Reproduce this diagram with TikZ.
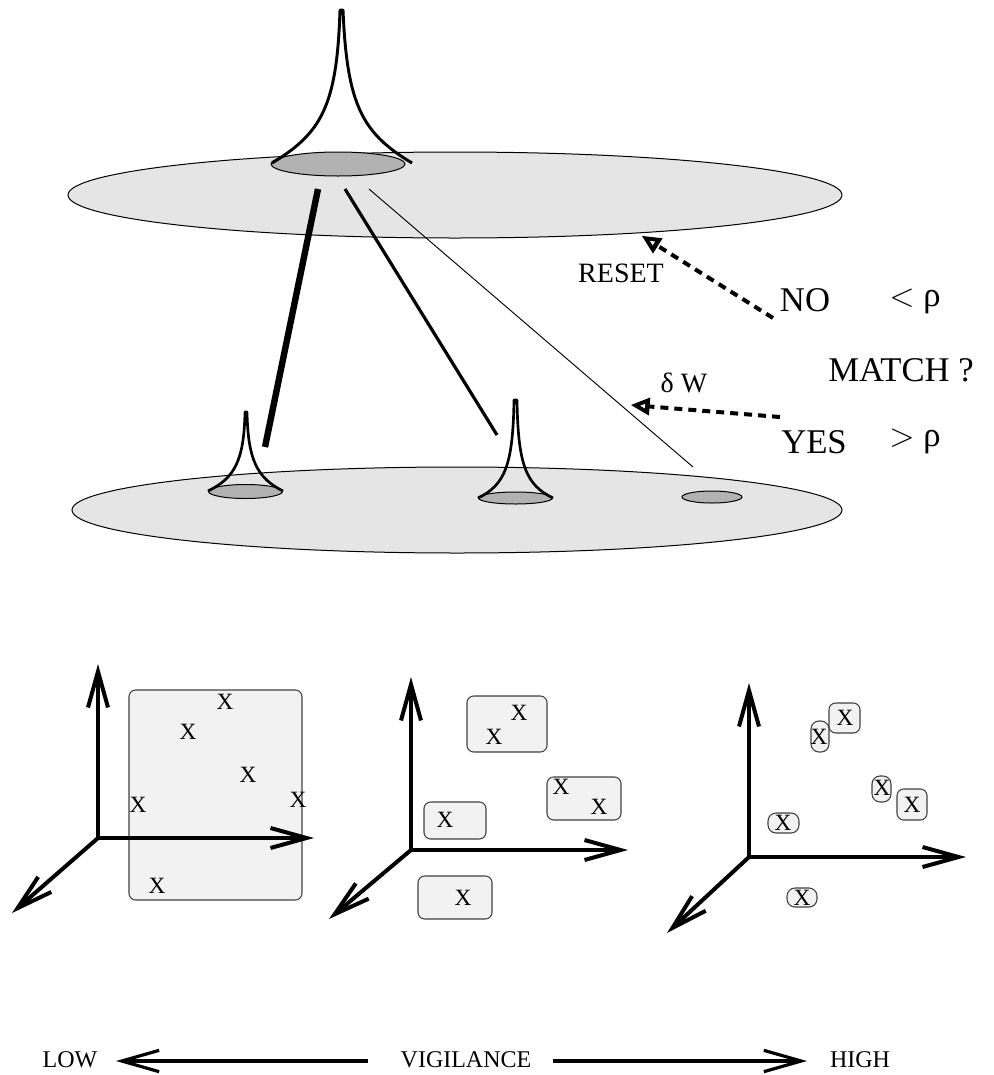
\documentclass[tikz,border=0pt]{standalone}
\usepackage{fontspec}
\setmainfont{Liberation Serif}
\usetikzlibrary{arrows.meta,calc}
\definecolor{planefill}{gray}{0.9}
\definecolor{spotfill}{gray}{0.7}
\definecolor{clusterfill}{gray}{0.95}
\definecolor{clusterline}{gray}{0.25}
\begin{document}
\begin{tikzpicture}[x=0.75pt,y=-0.75pt,
  planestyle/.style={fill=planefill,draw=black,line width=0.75pt},
  spotstyle/.style={fill=spotfill,draw=black,line width=0.75pt},
  peakstyle/.style={draw=black,line width=2.2pt,line join=round},
  bigtext/.style={inner sep=0pt,font=\fontsize{26}{30}\selectfont},
  smalltext/.style={inner sep=0pt,font=\fontsize{21}{25}\selectfont},
  scaletext/.style={inner sep=0pt,font=\fontsize{18}{22}\selectfont},
  xmark/.style={inner sep=0pt,font=\fontsize{17.5}{20}\selectfont},
  feedback/.style={line width=3pt,dash pattern=on 6pt off 4.5pt},
  axis/.style={line width=3pt,-{Straight Barb[length=27pt,width=15pt]}},
  scalearrow/.style={line width=2.4pt,-{Straight Barb[length=28pt,width=16pt]}},
  cluster/.style={fill=clusterfill,draw=clusterline,line width=0.8pt,rounded corners=5pt},
  tinycluster/.style={fill=clusterfill,draw=clusterline,line width=0.8pt,rounded corners=6pt}
]
\useasboundingbox (0,0) rectangle (994,1075);

% open arrow head drawn as a solid triangle with a small hole
\newcommand{\openhead}[2]{%
  \coordinate (hb) at ($(#1)!14pt!(#2)$);
  \coordinate (h1) at ($(hb)!6.8pt!90:(#1)$);
  \coordinate (h2) at ($(hb)!6.8pt!-90:(#1)$);
  \coordinate (hg) at ($(#1)!2/3!(hb)$);
  \fill[black] (#1) -- (h1) -- (h2) -- cycle;
  \fill[white] ($(hg)!0.25!(#1)$) -- ($(hg)!0.25!(h1)$) -- ($(hg)!0.25!(h2)$) -- cycle;
}

% ---------- upper layer ----------
\filldraw[planestyle] (455,195) ellipse [x radius=387, y radius=43];
\filldraw[spotstyle] (338,164) ellipse [x radius=67, y radius=12];
\draw[peakstyle] (272,163) .. controls (322,133) and (337,105) .. (340,10)
                 -- (343,10) .. controls (347,105) and (362,133) .. (412,163);

% ---------- lower layer ----------
\filldraw[planestyle] (457,510) ellipse [x radius=385, y radius=43];
\filldraw[spotstyle] (245.5,491.5) ellipse [x radius=37, y radius=7];
\draw[peakstyle,line width=2pt] (208,491) .. controls (235,478) and (244,460) .. (245,412)
                 -- (247,412) .. controls (248,460) and (257,478) .. (283,491);
\filldraw[spotstyle] (515.5,498) ellipse [x radius=37, y radius=6];
\draw[peakstyle,line width=2pt] (478,498) .. controls (505,485) and (513,465) .. (514,400)
                 -- (517,400) .. controls (518,465) and (526,485) .. (553,498);
\filldraw[spotstyle] (712,497) ellipse [x radius=30, y radius=6];

% ---------- weights between layers ----------
\coordinate (w1a) at (318,189); \coordinate (w1b) at (265,447);
\coordinate (w2a) at (345,189); \coordinate (w2b) at (497,435);
\coordinate (w3a) at (369,189); \coordinate (w3b) at (693,467);
\draw[line width=4.8pt] (w1a) -- (w1b);
\draw[line width=2.4pt] (w2a) -- (w2b);
\draw[line width=0.7pt] (w3a) -- (w3b);

% ---------- match test ----------
\node[bigtext] (no) at (805,300) {NO};
\node[bigtext] (lt) at (915,301) {$<$ ρ};
\node[bigtext] (match) at (901,370) {MATCH ?};
\node[bigtext] (yes) at (814,442) {YES};
\node[bigtext] (gt) at (915,441) {$>$ ρ};
\node[smalltext] (reset) at (621,273) {RESET};
\node[smalltext] (dw) at (684,383) {δ W};
\coordinate (resetTail) at (773,318);
\coordinate (resetTip) at (642,236);
\coordinate (dwTail) at (780,417);
\coordinate (dwTip) at (631,405);
\coordinate (resetBack) at ($(resetTip)!13pt!(resetTail)$);
\coordinate (dwBack) at ($(dwTip)!13pt!(dwTail)$);
\draw[feedback] (resetTail) -- (resetBack);
\draw[feedback] (dwTail) -- (dwBack);
\openhead{resetTip}{resetTail}
\openhead{dwTip}{dwTail}

% ---------- low vigilance: one category ----------
\draw[cluster] (129,690) rectangle (302,900);
\node[xmark] (a1) at (225,702) {X};
\node[xmark] (a2) at (188,732) {X};
\node[xmark] (a3) at (248,775) {X};
\node[xmark] (a4) at (138,805) {X};
\node[xmark] (a5) at (298,800) {X};
\node[xmark] (a6) at (157,886) {X};
\coordinate (o1) at (98,838);
\coordinate (o1y) at (98,664);
\coordinate (o1x) at (314,838);
\coordinate (o1z) at (12,913);
\draw[axis] (o1) -- (o1y);
\draw[axis] (o1) -- (o1x);
\draw[axis] (o1) -- (o1z);

% ---------- medium vigilance: four categories ----------
\draw[cluster] (467,696) rectangle (547,752);
\draw[cluster] (547,777) rectangle (621,820);
\draw[cluster] (424,802) rectangle (486,839);
\draw[cluster] (418,876) rectangle (492,919);
\node[xmark] (b1) at (519,713) {X};
\node[xmark] (b2) at (494,737) {X};
\node[xmark] (b3) at (561,787) {X};
\node[xmark] (b4) at (599,807) {X};
\node[xmark] (b5) at (445,820) {X};
\node[xmark] (b6) at (463,898) {X};
\coordinate (o2) at (411,850);
\coordinate (o2y) at (411,677);
\coordinate (o2x) at (628,850);
\coordinate (o2z) at (329,919);
\draw[axis] (o2) -- (o2y);
\draw[axis] (o2) -- (o2x);
\draw[axis] (o2) -- (o2z);

% ---------- high vigilance: one category per pattern ----------
\draw[cluster] (829,703) rectangle (860,733);
\draw[tinycluster] (811,721) rectangle (829,752);
\draw[tinycluster] (872,776) rectangle (891,802);
\draw[cluster] (897,789) rectangle (927,820);
\draw[tinycluster] (768,813) rectangle (799,833);
\draw[tinycluster] (787,888) rectangle (817,907);
\node[xmark] (c1) at (845,718) {X};
\node[xmark] (c2) at (819,737) {X};
\node[xmark] (c3) at (882,788) {X};
\node[xmark] (c4) at (912,805) {X};
\node[xmark] (c5) at (783,823) {X};
\node[xmark] (c6) at (802,898) {X};
\coordinate (o3) at (749,857);
\coordinate (o3y) at (749,683);
\coordinate (o3x) at (966,857);
\coordinate (o3z) at (667,933);
\draw[axis] (o3) -- (o3y);
\draw[axis] (o3) -- (o3x);
\draw[axis] (o3) -- (o3z);

% ---------- vigilance scale ----------
\node[scaletext] (low) at (70,1060) {LOW};
\node[scaletext] (vig) at (466,1060) {VIGILANCE};
\node[scaletext] (high) at (860,1060) {HIGH};
\coordinate (lowTail) at (368,1061);
\coordinate (lowTip) at (116,1061);
\coordinate (highTail) at (553,1061);
\coordinate (highTip) at (807,1061);
\draw[scalearrow] (lowTail) -- (lowTip);
\draw[scalearrow] (highTail) -- (highTip);
\end{tikzpicture}
\end{document}
